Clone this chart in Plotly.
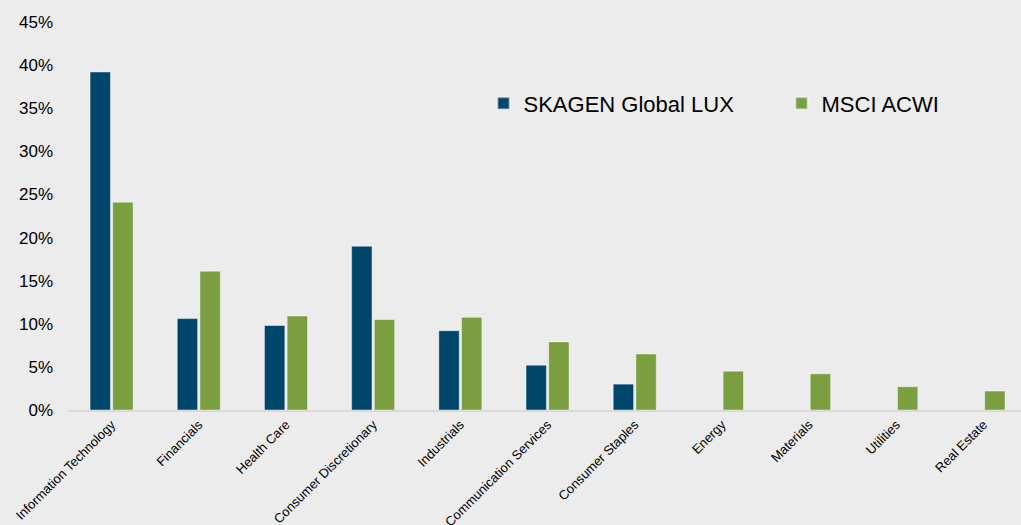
import plotly.graph_objects as go

categories = ["Information Technology", "Financials", "Health Care", "Consumer Discretionary",
              "Industrials", "Communication Services", "Consumer Staples", "Energy",
              "Materials", "Utilities", "Real Estate"]
skagen = [39.2, 10.6, 9.8, 19.0, 9.2, 5.2, 3.0, None, None, None, None]
msci = [24.1, 16.1, 10.9, 10.5, 10.75, 7.9, 6.5, 4.5, 4.2, 2.7, 2.2]
yticks = [0, 5, 10, 15, 20, 25, 30, 35, 40, 45]
ytick_labels = [f"{v}%" for v in yticks]

fig = go.Figure()
fig.add_trace(go.Bar(x=categories, y=skagen, name="SKAGEN Global LUX",
                     marker=dict(color="#00466B", line=dict(color="rgba(255,255,255,0.45)", width=1))))
fig.add_trace(go.Bar(x=categories, y=msci, name="MSCI ACWI",
                     marker=dict(color="#7B9F40", line=dict(color="rgba(255,255,255,0.45)", width=1))))

fig.update_layout(
    width=1021, height=525,
    margin=dict(l=68, r=0, t=22, b=115, autoexpand=False),
    paper_bgcolor="#ECECEC", plot_bgcolor="#ECECEC",
    barmode="group", bargap=0.48, bargroupgap=0.1,
    font=dict(family="Liberation Sans, Arial, sans-serif", color="#000000"),
    showlegend=True,
    legend=dict(orientation="h", x=0.436, y=0.79, xanchor="left", yanchor="middle",
                font=dict(size=22), entrywidth=253, bgcolor="rgba(0,0,0,0)",
                itemsizing="constant"),
    xaxis=dict(range=[-0.5, 10.43], tickangle=-45, tickfont=dict(size=13),
               showline=True, linecolor="#D9D9D9", linewidth=2, ticks="", showgrid=False),
    yaxis=dict(range=[0, 45], tickvals=yticks, ticktext=ytick_labels, tickfont=dict(size=17),
               showgrid=False, zeroline=False, showline=False, ticks="", ticklabelstandoff=14),
)

fig.write_html("out.html", config={"displayModeBar": False},
               post_script="document.body.style.margin='0px';")
